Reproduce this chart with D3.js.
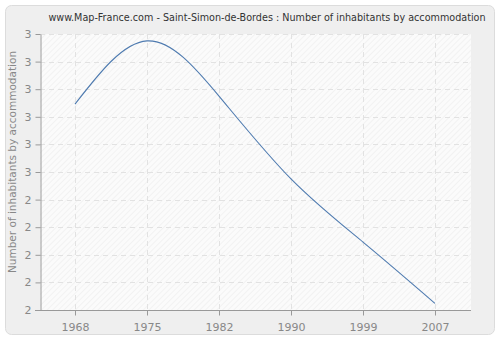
<!DOCTYPE html>
<html>
<head>
<meta charset="utf-8">
<script src="https://cdn.jsdelivr.net/npm/d3@7"></script>
<style>
  body { margin: 0; background: #fff; }
  text { font-family: "DejaVu Sans", sans-serif; }
</style>
</head>
<body>
<svg id="chart" width="500" height="340"></svg>
<script>
// data
const years = ["1968", "1975", "1982", "1990", "1999", "2007"];
const values = [2.746, 2.975, 2.775, 2.475, 2.246, 2.024];
const yTicks = [2.0, 2.1, 2.2, 2.3, 2.4, 2.5, 2.6, 2.7, 2.8, 2.9, 3.0];
const yTickLabels = ["2", "2", "2", "2", "2", "3", "3", "3", "3", "3", "3"];

const title = "www.Map-France.com - Saint-Simon-de-Bordes : Number of inhabitants by accommodation";
const yLabel = "Number of inhabitants by accommodation";

const svg = d3.select("#chart");
const plotL = 40, plotR = 471, plotT = 34, plotB = 310;

// outer frame
svg.append("rect")
  .attr("x", 5.5).attr("y", 5.5)
  .attr("width", 489).attr("height", 329)
  .attr("rx", 6)
  .attr("fill", "#efefef")
  .attr("stroke", "#dcdcdc");

// hatch pattern
const defs = svg.append("defs");
const pat = defs.append("pattern")
  .attr("id", "hatch")
  .attr("patternUnits", "userSpaceOnUse")
  .attr("width", 4).attr("height", 4)
  .attr("patternTransform", "rotate(45)");
pat.append("rect").attr("width", 4).attr("height", 4).attr("fill", "#fbfbfb");
pat.append("line")
  .attr("x1", 0).attr("y1", 0).attr("x2", 0).attr("y2", 4)
  .attr("stroke", "#ececec").attr("stroke-width", 1.2);

svg.append("rect")
  .attr("x", plotL).attr("y", plotT)
  .attr("width", plotR - plotL).attr("height", plotB - plotT)
  .attr("fill", "url(#hatch)");

const x = d3.scalePoint().domain(years).range([75, 435]);
const y = d3.scaleLinear().domain([2, 3]).range([plotB, plotT]);

// grid
svg.append("g").selectAll("line")
  .data(yTicks.slice(1))
  .enter().append("line")
  .attr("x1", plotL).attr("x2", plotR)
  .attr("y1", d => Math.round(y(d)) + 0.5).attr("y2", d => Math.round(y(d)) + 0.5)
  .attr("stroke", "#e2e2e2").attr("stroke-dasharray", "5,4");

svg.append("g").selectAll("line")
  .data(years)
  .enter().append("line")
  .attr("x1", d => Math.round(x(d)) + 0.5).attr("x2", d => Math.round(x(d)) + 0.5)
  .attr("y1", plotT).attr("y2", plotB)
  .attr("stroke", "#e2e2e2").attr("stroke-dasharray", "5,4");

// axes
const yAxis = d3.axisLeft(y)
  .tickValues(yTicks)
  .tickSize(5)
  .tickSizeOuter(0)
  .tickFormat((d, i) => yTickLabels[i]);
const gy = svg.append("g")
  .attr("transform", `translate(${plotL + 0.5},0)`)
  .call(yAxis);

const xAxis = d3.axisBottom(x).tickSize(5).tickSizeOuter(0);
const gx = svg.append("g")
  .attr("transform", `translate(0,${plotB + 0.5})`)
  .call(xAxis);

gx.select(".domain").attr("d", `M35,0H${plotR}`);

[gx, gy].forEach(g => {
  g.select(".domain").attr("stroke", "#999");
  g.selectAll(".tick line").attr("stroke", "#999");
  g.selectAll(".tick text")
    .attr("fill", "#888")
    .style("font-size", "11px")
    .style("font-family", "DejaVu Sans, sans-serif");
});
gx.selectAll(".tick text").attr("dy", "1.1em");
gy.selectAll(".tick text").attr("x", -9);

// line
const line = d3.line()
  .x((d, i) => x(years[i]))
  .y(d => y(d))
  .curve(d3.curveNatural);

svg.append("path")
  .datum(values)
  .attr("d", line)
  .attr("fill", "none")
  .attr("stroke", "#4f7bb0")
  .attr("stroke-width", 1.1);

// title
svg.append("text")
  .attr("x", 267).attr("y", 21)
  .attr("text-anchor", "middle")
  .attr("fill", "#333")
  .style("font-family", "'DejaVu Sans Condensed', 'DejaVu Sans', sans-serif")
  .style("font-size", "10.7px")
  .text(title);

// y label
svg.append("text")
  .attr("transform", `translate(16,162) rotate(-90)`)
  .attr("text-anchor", "middle")
  .attr("fill", "#888")
  .style("font-size", "10.5px")
  .text(yLabel);
</script>
</body>
</html>
